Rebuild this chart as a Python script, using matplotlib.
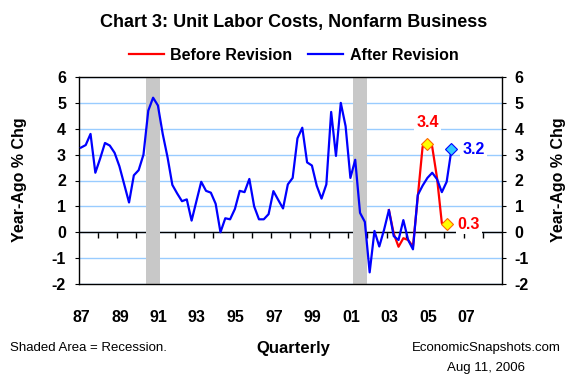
import matplotlib
matplotlib.use("Agg")
import matplotlib.pyplot as plt

plt.rcParams['font.family'] = ['Liberation Sans', 'DejaVu Sans']
plt.rcParams['axes.unicode_minus'] = False

# quarterly year-ago % change, 1987Q1 .. 2006Q2 (after revision)
after_rev = [3.27, 3.37, 3.80, 2.30, 2.85, 3.45, 3.35, 3.07, 2.55, 1.85,
             1.15, 2.20, 2.40, 3.00, 4.70, 5.20, 4.90, 3.80, 2.90, 1.83,
             1.50, 1.20, 1.27, 0.45, 1.20, 1.95, 1.60, 1.53, 1.10, 0.00,
             0.54, 0.50, 0.90, 1.60, 1.55, 2.06, 1.00, 0.50, 0.50, 0.70,
             1.59, 1.25, 0.92, 1.85, 2.10, 3.63, 4.04, 2.70, 2.58, 1.80,
             1.30, 1.85, 4.65, 2.95, 5.00, 4.10, 2.10, 2.80, 0.75, 0.40,
             -1.55, 0.05, -0.55, 0.10, 0.86, -0.15, -0.30, 0.47, -0.30, -0.66,
             1.44, 1.80, 2.10, 2.30, 2.05, 1.55, 1.95, 3.20]
# before revision, 2003Q1 .. 2006Q1
before_rev = [0.86, -0.05, -0.56, -0.23, -0.30, -0.55, 1.37, 3.30, 3.40, 3.30,
              2.10, 0.35, 0.30]
before_start = 64  # index of 2003Q1

first_q = 1987.125  # 1987Q1 plotted mid-quarter
rec_start = [1990.5, 2001.25]
rec_end = [1991.25, 2002.0]

label_years = [1987, 1989, 1991, 1993, 1995, 1997, 1999, 2001, 2003, 2005, 2007]
year_labels = ['87', '89', '91', '93', '95', '97', '99', '01', '03', '05', '07']

x_after = [first_q + 0.25 * i for i in range(len(after_rev))]
x_before = [first_q + 0.25 * (before_start + i) for i in range(len(before_rev))]

fig = plt.figure(figsize=(5.8, 3.75), dpi=100)
ax = fig.add_axes([78.5 / 580, 91 / 375, 423.5 / 580, 207 / 375])

ax.set_xlim(1987, 2009)
ax.set_ylim(-2, 6)
ax.set_yticks(range(-2, 7))
ax.set_axisbelow(True)
ax.grid(axis='y', color='#99CCFF', lw=1)

for s, e in zip(rec_start, rec_end):
    ax.axvspan(s, e, color='#C8C8C8', lw=0, zorder=1)

ax.axhline(0, color='black', lw=1, zorder=0.8)
sec = ax.secondary_xaxis(0, transform=ax.transData)
sec.set_xticks(range(1988, 2009))
sec.tick_params(direction='out', length=4, width=1, labelbottom=False)
sec.spines['bottom'].set_visible(False)

ax.plot(x_before, before_rev, color='#FF0000', lw=1.6, zorder=2, label='Before Revision')
ax.plot(x_after, after_rev, color='#0000FF', lw=1.6, zorder=3, label='After Revision')

# end-point markers
pk = before_rev.index(max(before_rev))
ax.plot([x_before[pk], x_before[-1]], [before_rev[pk], before_rev[-1]], 'D',
        ms=6, mfc='#FFFF00', mec='#FF6600', mew=0.8, zorder=5)
ax.plot([x_after[-1]], [after_rev[-1]], 'D', ms=6, mfc='#33CCFF', mec='#0000FF',
        mew=0.8, zorder=5)

box = dict(facecolor='white', edgecolor='none', pad=1.5)
ax.annotate('%.1f' % before_rev[pk], (x_before[pk], before_rev[pk]), xytext=(0, 16),
            textcoords='offset points', ha='center', va='center', color='#FF0000',
            fontsize=11.5, fontweight='bold', bbox=box, zorder=6)
ax.annotate('%.1f' % before_rev[-1], (x_before[-1], before_rev[-1]), xytext=(16, 0),
            textcoords='offset points', ha='center', va='center', color='#FF0000',
            fontsize=11.5, fontweight='bold', bbox=box, zorder=6)
ax.annotate('%.1f' % after_rev[-1], (x_after[-1], after_rev[-1]), xytext=(16, 0),
            textcoords='offset points', ha='center', va='center', color='#0000FF',
            fontsize=11.5, fontweight='bold', bbox=box, zorder=6)

ax.set_xticks([y + 0.15 for y in label_years])
ax.set_xticklabels(year_labels, fontsize=11.5, fontweight='bold')
ax.tick_params(axis='x', length=0, pad=19)
ax.tick_params(axis='y', left=True, right=True, labelleft=True, labelright=True,
               direction='out', length=3, pad=6, labelsize=11.5)
for t in ax.yaxis.get_major_ticks():
    t.label1.set_fontweight('bold')
    t.label2.set_fontweight('bold')

for sp in ax.spines.values():
    sp.set_color('black')
    sp.set_linewidth(1)

fig.text(293.5 / 580, 1 - 22 / 375, 'Chart 3: Unit Labor Costs, Nonfarm Business',
         ha='center', va='center', fontsize=13, fontweight='bold')
fig.legend(loc='center', bbox_to_anchor=(293.5 / 580, 1 - 55 / 375), ncol=2,
           frameon=False, prop={'size': 11.5, 'weight': 'bold'},
           handlelength=2.2, columnspacing=1.0, handletextpad=0.4)

fig.text(20 / 580, 1 - 180 / 375, 'Year-Ago % Chg', rotation=90, ha='center',
         va='center', fontsize=11.5, fontweight='bold')
fig.text(558 / 580, 1 - 180 / 375, 'Year-Ago % Chg', rotation=90, ha='center',
         va='center', fontsize=11.5, fontweight='bold')

fig.text(10 / 580, 1 - 348 / 375, 'Shaded Area = Recession.', ha='left',
         va='center', fontsize=9.5)
fig.text(293 / 580, 1 - 348 / 375, 'Quarterly', ha='center', va='center',
         fontsize=12, fontweight='bold')
fig.text(561 / 580, 1 - 348 / 375, 'EconomicSnapshots.com', ha='right',
         va='center', fontsize=9.5)
fig.text(486 / 580, 1 - 368 / 375, 'Aug 11, 2006', ha='center', va='center',
         fontsize=9.5)

fig.savefig('out.png', dpi=100)
